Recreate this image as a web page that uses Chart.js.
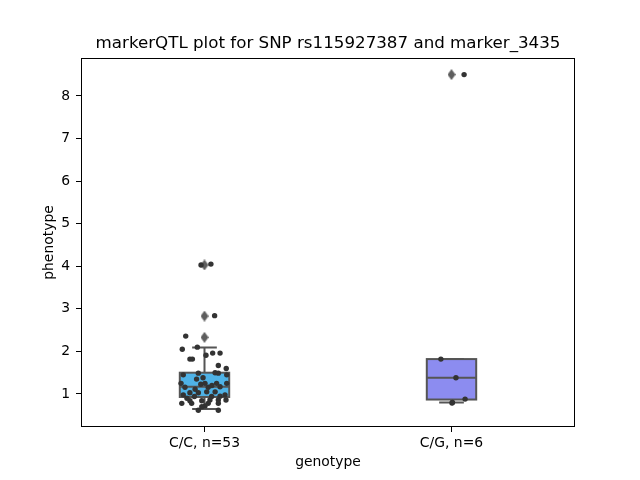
<!DOCTYPE html>
<html><head><meta charset="utf-8">
<script src="https://cdn.jsdelivr.net/npm/chart.js@4/dist/chart.umd.min.js"></script>
<style>html,body{margin:0;padding:0;background:#fff}#wrap{width:640px;height:480px}</style>
</head><body><div id="wrap"><canvas id="c" width="640" height="480"></canvas></div>
<script>
// ---- data ----
const titleText = 'markerQTL plot for SNP rs115927387 and marker_3435';
const categories = ['C/C, n=53', 'C/G, n=6'];
const boxQ1 = [0.93, 0.87];
const boxMedian = [1.17, 1.38];
const boxQ3 = [1.50, 1.82];
const whiskerLow = [0.65, 0.80];
const whiskerHigh = [2.09, 1.82];
const outlierCategory = [0, 0, 0, 1];
const outlierValues = [4.03, 2.83, 2.33, 8.50];
const ccJitter = [-0.014, 0.026, 0.041, -0.076, -0.090, -0.029, 0.033, 0.063, -0.059, -0.049,
  0.006, 0.056, 0.088, -0.086, -0.025, 0.043, 0.056, 0.090, -0.095, -0.032,
  -0.015, 0.002, 0.049, 0.090, -0.079, -0.038, 0.015, 0.063, -0.059, -0.025,
  0.009, 0.043, -0.086, 0.083, -0.041, 0.029, 0.063, -0.059, -0.011, 0.022,
  0.056, 0.087, -0.092, -0.052, 0.015, 0.056, -0.025, 0.002, 0.056, -0.011,
  -0.006, -0.071, 0.030];
const ccValues = [4.03, 4.05, 2.84, 2.36, 2.05, 2.10, 1.96, 1.96, 1.82, 1.82,
  1.91, 1.67, 1.60, 1.45, 1.49, 1.50, 1.49, 1.45, 1.25, 1.35,
  1.23, 1.25, 1.25, 1.25, 1.16, 1.11, 1.16, 1.17, 1.03, 1.03,
  1.05, 1.05, 0.98, 0.98, 0.94, 0.94, 0.95, 0.84, 0.84, 0.86,
  0.86, 0.86, 0.78, 0.78, 0.78, 0.78, 0.62, 0.72, 0.62, 0.70,
  1.38, 0.90, 1.20];
const cgJitter = [-0.043, 0.018, 0.055, 0.002, 0.051, 0.004];
const cgValues = [1.82, 1.38, 0.88, 0.79, 8.50, 0.80];
const yTicks = [1, 2, 3, 4, 5, 6, 7, 8];

// ---- styles ----
const boxColors = ['#4fb2e6', '#8c8cf0'];
const lineGray = '#555555';
const FONT = 'DejaVu Sans';

function diamond() {
  const c = document.createElement('canvas');
  c.width = 8; c.height = 11;
  const g = c.getContext('2d');
  g.fillStyle = '#5e5e5e';
  g.beginPath(); g.moveTo(4, 0); g.lineTo(8, 5.5); g.lineTo(4, 11); g.lineTo(0, 5.5); g.closePath(); g.fill();
  return c;
}

const boxPlugin = {
  id: 'boxes',
  beforeDatasetsDraw(chart) {
    const {ctx, scales: {x, y}} = chart;
    ctx.save();
    categories.forEach((c, i) => {
      const xl = x.getPixelForValue(i - 0.1), xr = x.getPixelForValue(i + 0.1);
      const xc = x.getPixelForValue(i);
      const cl = x.getPixelForValue(i - 0.05), cr = x.getPixelForValue(i + 0.05);
      const q1 = y.getPixelForValue(boxQ1[i]), q3 = y.getPixelForValue(boxQ3[i]);
      const md = y.getPixelForValue(boxMedian[i]);
      const wl = y.getPixelForValue(whiskerLow[i]), wh = y.getPixelForValue(whiskerHigh[i]);
      ctx.lineWidth = 2; ctx.strokeStyle = lineGray;
      ctx.beginPath();
      ctx.moveTo(xc, q1); ctx.lineTo(xc, wl);
      ctx.moveTo(xc, q3); ctx.lineTo(xc, wh);
      ctx.moveTo(cl, wl); ctx.lineTo(cr, wl);
      ctx.moveTo(cl, wh); ctx.lineTo(cr, wh);
      ctx.stroke();
      ctx.fillStyle = boxColors[i];
      ctx.fillRect(xl, q3, xr - xl, q1 - q3);
      ctx.strokeRect(xl, q3, xr - xl, q1 - q3);
      ctx.beginPath(); ctx.moveTo(xl, md); ctx.lineTo(xr, md); ctx.stroke();
    });
    ctx.restore();
  },
  afterDatasetsDraw(chart) {
    const {ctx, chartArea: a} = chart;
    ctx.save();
    ctx.strokeStyle = '#000'; ctx.lineWidth = 1;
    ctx.strokeRect(Math.round(a.left) + 0.5, Math.round(a.top) + 0.5, Math.round(a.right - a.left) - 1, Math.round(a.bottom - a.top) - 1);
    ctx.fillStyle = '#000';
    ctx.font = '16.7px "' + FONT + '"';
    ctx.textAlign = 'center'; ctx.textBaseline = 'middle';
    ctx.fillText(titleText, (a.left + a.right) / 2, 44);
    ctx.restore();
  }
};

new Chart(document.getElementById('c'), {
  type: 'scatter',
  data: {
    datasets: [
      {label: categories[0], data: ccJitter.map((j, k) => ({x: 0 + j, y: ccValues[k]})), pointRadius: 2.7, pointBackgroundColor: '#333333', pointBorderWidth: 0},
      {label: categories[1], data: cgJitter.map((j, k) => ({x: 1 + j, y: cgValues[k]})), pointRadius: 2.7, pointBackgroundColor: '#333333', pointBorderWidth: 0},
      {label: 'outliers', data: outlierCategory.map((c, k) => ({x: c, y: outlierValues[k]})), pointStyle: diamond(), pointRadius: 5}
    ]
  },
  options: {
    responsive: false, animation: false, devicePixelRatio: 1,
    layout: {padding: {top: 58, right: 65, left: 0, bottom: 0}},
    plugins: {legend: {display: false}, tooltip: {enabled: false}, title: {display: false}},
    scales: {
      x: {
        type: 'linear', min: -0.5, max: 1.5,
        afterFit(s) { s.height = 53; },
        afterBuildTicks(s) { s.ticks = categories.map((c, i) => ({value: i})); },
        ticks: {callback: (v) => categories[v] ?? '', color: '#000', font: {family: FONT, size: 13.9}, padding: 3, maxRotation: 0, autoSkip: false},
        grid: {display: true, drawOnChartArea: false, drawTicks: true, tickLength: 5, color: '#000'},
        border: {display: false},
        title: {display: true, text: 'genotype', color: '#000', font: {family: FONT, size: 13.9, lineHeight: 1.2}, padding: {top: 0, bottom: 9.6}}
      },
      y: {
        type: 'linear', min: 0.225, max: 8.89,
        afterFit(s) { s.width = 81; },
        afterBuildTicks(s) { s.ticks = yTicks.map(v => ({value: v})); },
        ticks: {color: '#000', font: {family: FONT, size: 13.9}, padding: 6},
        grid: {display: true, drawOnChartArea: false, drawTicks: true, tickLength: 5, color: '#000'},
        border: {display: false},
        title: {display: true, text: 'phenotype', color: '#000', font: {family: FONT, size: 13.9, lineHeight: 1.2}, padding: {top: 40.6, bottom: 0}}
      }
    }
  },
  plugins: [boxPlugin]
});
</script>
</body></html>
